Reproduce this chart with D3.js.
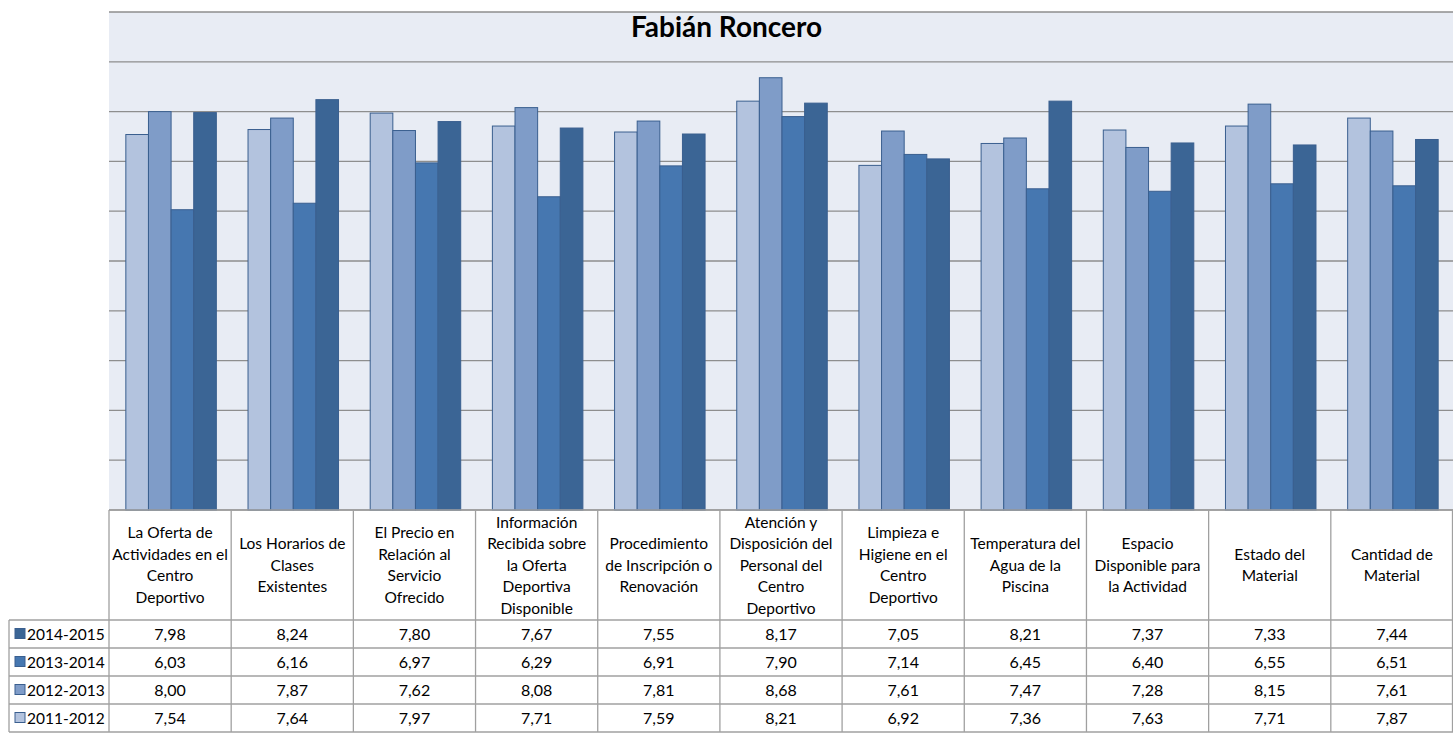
<!DOCTYPE html>
<html>
<head>
<meta charset="utf-8">
<script src="https://cdn.jsdelivr.net/npm/d3@7"></script>
<style>
  body { margin: 0; background: #fff; }
  text { font-family: Lato, "Open Sans", sans-serif; fill: #000; }
</style>
</head>
<body>
<div id="chart"></div>
<script>
// categories, one array of wrapped lines each (as in the table header)
var categories = [
  ["La Oferta de", "Actividades en el", "Centro", "Deportivo"],
  ["Los Horarios de", "Clases", "Existentes"],
  ["El Precio en", "Relación al", "Servicio", "Ofrecido"],
  ["Información", "Recibida sobre", "la Oferta", "Deportiva", "Disponible"],
  ["Procedimiento", "de Inscripción o", "Renovación"],
  ["Atención y", "Disposición del", "Personal del", "Centro", "Deportivo"],
  ["Limpieza e", "Higiene en el", "Centro", "Deportivo"],
  ["Temperatura del", "Agua de la", "Piscina"],
  ["Espacio", "Disponible para", "la Actividad"],
  ["Estado  del", "Material"],
  ["Cantidad de", "Material"]
];

var series = ["2011-2012", "2012-2013", "2013-2014", "2014-2015"];
var colors = ["#b3c3de", "#7f9cc8", "#4677b0", "#3b6595"];

var v2011 = [7.54, 7.64, 7.97, 7.71, 7.59, 8.21, 6.92, 7.36, 7.63, 7.71, 7.87];
var v2012 = [8.00, 7.87, 7.62, 8.08, 7.81, 8.68, 7.61, 7.47, 7.28, 8.15, 7.61];
var v2013 = [6.03, 6.16, 6.97, 6.29, 6.91, 7.90, 7.14, 6.45, 6.40, 6.55, 6.51];
var v2014 = [7.98, 8.24, 7.80, 7.67, 7.55, 8.17, 7.05, 8.21, 7.37, 7.33, 7.44];
var values = [v2011, v2012, v2013, v2014];

var W = 1453, H = 734;
var plotL = 109, plotR = 1453, plotT = 12, plotB = 510;
var headerBottom = 620, rowH = 28;

var svg = d3.select("#chart").append("svg")
    .attr("width", W).attr("height", H);

// plot background
svg.append("rect")
    .attr("x", plotL).attr("y", plotT)
    .attr("width", plotR - plotL).attr("height", plotB - plotT)
    .attr("fill", "#e8ecf4");

var x0 = d3.scaleBand()
    .domain(d3.range(categories.length))
    .range([plotL, plotR])
    .paddingInner(0).paddingOuter(0);

var x1 = d3.scaleBand()
    .domain(d3.range(series.length))
    .range([1, x0.bandwidth() + 1])
    .paddingOuter(0.7).paddingInner(0);

var y = d3.scaleLinear().domain([0, 10]).range([plotB, plotT]);

// gridlines
svg.append("g").selectAll("line")
  .data(y.ticks(10))
  .join("line")
    .attr("x1", plotL).attr("x2", plotR)
    .attr("y1", function(d) { return y(d); })
    .attr("y2", function(d) { return y(d); })
    .attr("stroke", "#8e8e8e")
    .attr("stroke-width", 1.3);

// bars
var groups = svg.append("g").selectAll("g")
  .data(categories.map(function(c, i) { return i; }))
  .join("g")
    .attr("transform", function(i) { return "translate(" + x0(i) + ",0)"; });

groups.selectAll("rect")
  .data(function(i) { return values.map(function(s, k) { return {k: k, v: s[i]}; }); })
  .join("rect")
    .attr("x", function(d) { return x1(d.k); })
    .attr("y", function(d) { return y(d.v); })
    .attr("width", x1.bandwidth())
    .attr("height", function(d) { return plotB - y(d.v); })
    .attr("fill", function(d) { return colors[d.k]; })
    .attr("stroke", "#3a5f8f")
    .attr("stroke-width", 1);

// title
svg.append("text")
    .attr("x", W / 2).attr("y", 37)
    .attr("text-anchor", "middle")
    .style("font-size", "28px")
    .style("font-weight", "bold")
    .text("Fabián Roncero");

// data table
var grid = svg.append("g")
    .attr("stroke", "#a0a0a0")
    .attr("stroke-width", 1.3);

var tableBottom = headerBottom + rowH * series.length;

d3.range(categories.length + 1).forEach(function(i) {
  var xx = i < categories.length ? x0(i) : plotR - 0.5;
  grid.append("line")
    .attr("x1", xx).attr("x2", xx)
    .attr("y1", plotB).attr("y2", tableBottom);
});
grid.append("line").attr("x1", plotL).attr("x2", plotR).attr("y1", plotB).attr("y2", plotB);
d3.range(series.length + 1).forEach(function(r) {
  var yy = headerBottom + r * rowH;
  grid.append("line").attr("x1", 9).attr("x2", plotR).attr("y1", yy).attr("y2", yy);
});
grid.append("line").attr("x1", 9).attr("x2", 9).attr("y1", headerBottom).attr("y2", tableBottom);

// header labels
var lineH = 21.5;
categories.forEach(function(lines, i) {
  var cx = x0(i) + x0.bandwidth() / 2;
  var cy = (plotB + headerBottom) / 2;
  var t = svg.append("text")
      .attr("text-anchor", "middle")
      .style("font-size", "15.5px");
  lines.forEach(function(l, j) {
    t.append("tspan")
      .attr("x", cx)
      .attr("y", cy + (j - (lines.length - 1) / 2) * lineH + 5.5)
      .text(l);
  });
});

// rows: darkest series on top
var rowOrder = [3, 2, 1, 0];
var fmt = function(v) { return v.toFixed(2).replace(".", ","); };

rowOrder.forEach(function(k, r) {
  var cy = headerBottom + r * rowH + rowH / 2;
  svg.append("rect")
    .attr("x", 15).attr("y", cy - 5.5)
    .attr("width", 10).attr("height", 10)
    .attr("fill", colors[k])
    .attr("stroke", "#3a5f8f").attr("stroke-width", 1);
  svg.append("text")
    .attr("x", 27).attr("y", cy + 6)
    .style("font-size", "15.5px")
    .text(series[k]);
  values[k].forEach(function(v, i) {
    svg.append("text")
      .attr("x", x0(i) + x0.bandwidth() / 2)
      .attr("y", cy + 6)
      .attr("text-anchor", "middle")
      .style("font-size", "16px")
      .text(fmt(v));
  });
});
</script>
</body>
</html>
